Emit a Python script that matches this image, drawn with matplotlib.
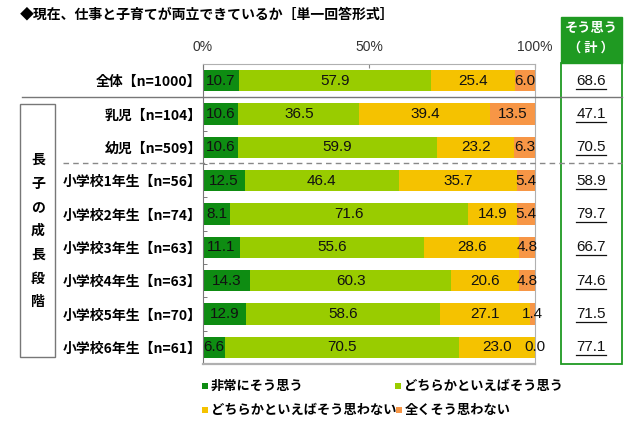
import matplotlib
matplotlib.use('Agg')
import matplotlib.pyplot as plt
import matplotlib.transforms as mtransforms
from matplotlib.patches import Rectangle
from matplotlib.lines import Line2D

plt.rcParams['font.family'] = ['Noto Sans CJK JP', 'DejaVu Sans']

categories = ['全体【n=1000】', '乳児【n=104】', '幼児【n=509】',
              '小学校1年生【n=56】', '小学校2年生【n=74】', '小学校3年生【n=63】',
              '小学校4年生【n=63】', '小学校5年生【n=70】', '小学校6年生【n=61】']
very = [10.7, 10.6, 10.6, 12.5, 8.1, 11.1, 14.3, 12.9, 6.6]
somewhat = [57.9, 36.5, 59.9, 46.4, 71.6, 55.6, 60.3, 58.6, 70.5]
somewhat_not = [25.4, 39.4, 23.2, 35.7, 14.9, 28.6, 20.6, 27.1, 23.0]
not_at_all = [6.0, 13.5, 6.3, 5.4, 5.4, 4.8, 4.8, 1.4, 0.0]
agree_total = [68.6, 47.1, 70.5, 58.9, 79.7, 66.7, 74.6, 71.5, 77.1]

series_names = ['非常にそう思う', 'どちらかといえばそう思う',
                'どちらかといえばそう思わない', '全くそう思わない']
colors = ['#0e8c12', '#99cc00', '#f5c200', '#f79646']
header_green = '#1f9a22'

W, H = 640, 426
def fx(x):
    return x / W
def fy(y):
    return 1 - y / H

fig = plt.figure(figsize=(6.4, 4.26), dpi=100)
ax = fig.add_axes([fx(203), fy(364), (535 - 203) / W, (364 - 64) / H])

rows = list(range(len(categories)))
left = [0.0] * len(rows)
num_font = dict(family=['Liberation Sans', 'DejaVu Sans'], fontsize=11, color='#111111')
for vals, col in zip([very, somewhat, somewhat_not, not_at_all], colors):
    ax.barh(rows, vals, left=left, height=0.64, color=col, edgecolor='none')
    for r, v, l in zip(rows, vals, left):
        ax.text(l + v / 2, r, f'{v:.1f}', ha='center', va='center', **num_font)
    left = [a + b for a, b in zip(left, vals)]

ax.set_xlim(0, 100)
ax.set_ylim(len(rows) - 0.5, -0.5)
ax.xaxis.tick_top()
ax.set_xticks([0, 50, 100], ['0%', '50%', '100%'])
ax.tick_params(axis='x', direction='in', length=3, color='#888888', pad=7,
               labelsize=10, labelcolor='#333333')
for t in ax.get_xticklabels():
    t.set_fontfamily(['Liberation Sans', 'DejaVu Sans'])
ax.set_yticks(rows, categories)
ax.tick_params(axis='y', length=0, pad=1, labelsize=10)
for t in ax.get_yticklabels():
    t.set_fontweight('bold')
ax.set_yticks([r + 0.5 for r in rows[:-1]], minor=True)
ax.tick_params(axis='y', which='minor', direction='in', length=3, color='#666666')
for s in ax.spines.values():
    s.set_color('#b0b0b0')
ax.spines['left'].set_color('#777777')
ax.spines['bottom'].set_linewidth(1.6)

# separator lines
fig.add_artist(Line2D([fx(22), fx(622)], [fy(97), fy(97)], color='#777777', lw=1))
fig.add_artist(Line2D([fx(63), fx(622)], [fy(163), fy(163)], color='#888888', lw=1,
                      linestyle=(0, (4, 3))))

# left group box
fig.add_artist(Rectangle((fx(20), fy(357)), fx(55) - fx(20), fy(104) - fy(357),
                         fill=False, edgecolor='#777777', lw=1))
for i, ch in enumerate('長子の成長段階'):
    fig.text(fx(38), fy(160 + i * 23.7), ch, ha='center', va='center',
             fontsize=10, fontweight='bold')

# right total column
fig.add_artist(Rectangle((fx(561), fy(63)), fx(622) - fx(561), fy(17) - fy(63),
                         facecolor=header_green, edgecolor=header_green, lw=1))
fig.add_artist(Rectangle((fx(561), fy(364)), fx(622) - fx(561), fy(63) - fy(364),
                         fill=False, edgecolor=header_green, lw=1.3))
fig.text(fx(591), fy(28), 'そう思う', ha='center', va='center', color='white',
         fontsize=9.5, fontweight='bold')
fig.text(fx(591), fy(48), '（ 計 ）', ha='center', va='center', color='white',
         fontsize=9.5, fontweight='bold')
trans = mtransforms.blended_transform_factory(fig.transFigure, ax.transData)
for r, v in zip(rows, agree_total):
    fig.text(fx(591), r, f'{v:.1f}', transform=trans, ha='center', va='center',
             **num_font)
    fig.add_artist(Line2D([fx(576), fx(606)], [r + 0.24, r + 0.24], transform=trans,
                          color='#111111', lw=0.9))

# legend
legend_pos = [(205, 386), (398, 386), (205, 410), (399, 410)]
for (x, y), name, col in zip(legend_pos, series_names, colors):
    fig.add_artist(Rectangle((fx(x - 3), fy(y + 3)), 6 / W, 6 / H,
                             facecolor=col, edgecolor='none'))
    fig.text(fx(x + 6), fy(y), name, ha='left', va='center', fontsize=9.5,
             fontweight='bold')

fig.text(fx(20), fy(14), '◆現在、仕事と子育てが両立できているか［単一回答形式］',
         ha='left', va='center', fontsize=10, fontweight='bold')

fig.savefig('out.png', dpi=100)
